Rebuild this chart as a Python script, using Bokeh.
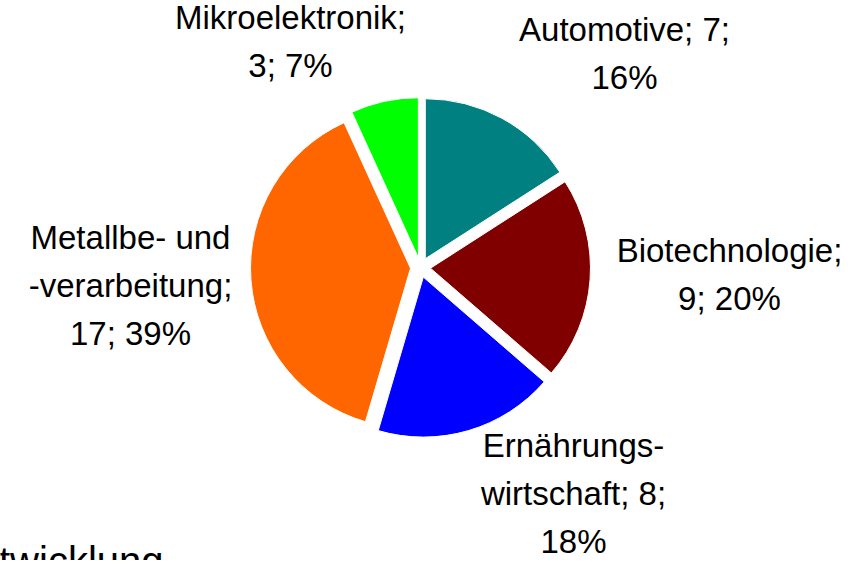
import math
from bokeh.plotting import figure
from bokeh.models import Range1d, ColumnDataSource
from bokeh.core.properties import value
from bokeh.embed import file_html
from bokeh.resources import INLINE

# ---- data ----
categories = ["Automotive", "Biotechnologie", "Ernährungs-\nwirtschaft",
              "Metallbe- und\n-verarbeitung", "Mikroelektronik"]
counts = [7, 9, 8, 17, 3]
colors = ["#008080", "#800000", "#0000FF", "#FF6600", "#00FF00"]
label_templates = ["{c}; {v};\n{p}%", "{c};\n{v}; {p}%", "{c}; {v};\n{p}%",
                   "{c};\n{v}; {p}%", "{c};\n{v}; {p}%"]
footer_text = "Entwicklung"

# ---- layout ----
W, H = 850, 560
CX, CY = 420, 293          # pie centre (data units = px)
R = 160                    # radius
EXPLODE = 10               # offset of each slice
# label centre offsets from pie centre (px, screen-down positive)
label_offsets = [(204, -214), (309, 7), (153, 226), (-290, 18), (-130, -226)]
FONT = "Liberation Sans"
FS = "33px"

total = sum(counts)
pcts = [round(100 * v / total) for v in counts]

xs, ys, starts, ends = [], [], [], []
cum = 0
for v in counts:
    a0 = math.pi / 2 - 2 * math.pi * cum / total
    cum += v
    a1 = math.pi / 2 - 2 * math.pi * cum / total
    mid = (a0 + a1) / 2
    xs.append(CX + EXPLODE * math.cos(mid))
    ys.append(CY + EXPLODE * math.sin(mid))
    starts.append(a0)
    ends.append(a1)

src = ColumnDataSource(dict(x=xs, y=ys, start=starts, end=ends, color=colors))

p = figure(width=W, height=H, x_range=Range1d(0, W), y_range=Range1d(0, H),
           output_backend="svg", toolbar_location=None,
           x_axis_type=None, y_axis_type=None, min_border=0)
p.outline_line_color = None
p.grid.visible = False
p.background_fill_color = "white"
p.border_fill_color = "white"

p.wedge(x="x", y="y", radius=R, start_angle="start", end_angle="end",
        direction="clock", fill_color="color", line_color="white",
        line_width=1, source=src)

labels = [t.format(c=c, v=v, p=pc) for t, c, v, pc in
          zip(label_templates, categories, counts, pcts)]
lx = [CX + dx for dx, dy in label_offsets]
ly = [CY - dy for dx, dy in label_offsets]
lsrc = ColumnDataSource(dict(x=lx, y=ly, text=labels))
p.text(x="x", y="y", text="text", source=lsrc, text_align="center",
       text_baseline="middle", text_font=value(FONT), text_font_size=FS,
       text_color="black", text_line_height=1.3)

p.text(x=[163], y=[0], text=[footer_text], text_align="right",
       text_baseline="alphabetic", text_font=value(FONT), text_font_size="40px",
       text_color="black")

open("out.html", "w").write(file_html(p, INLINE))
